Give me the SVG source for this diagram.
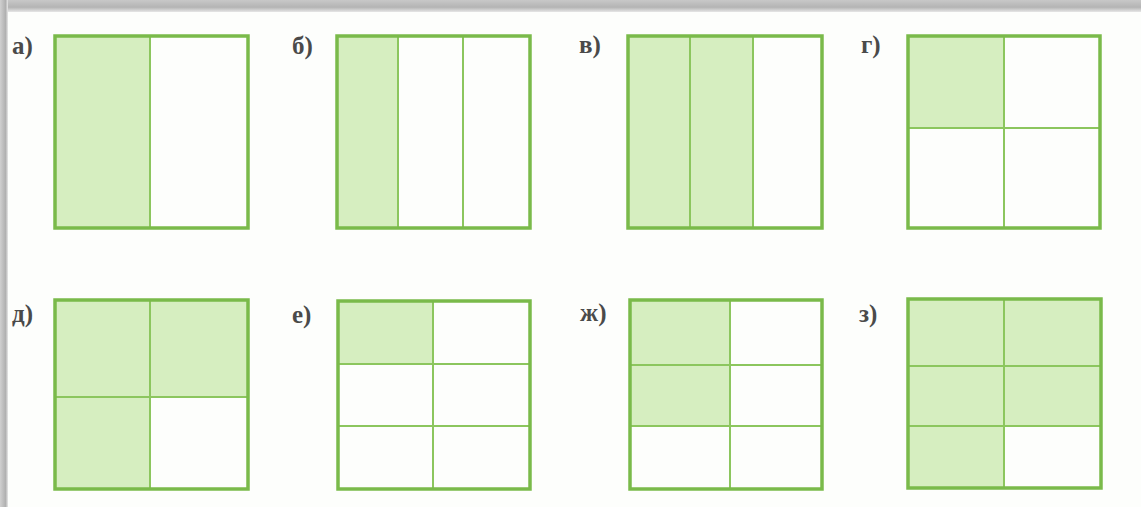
<svg xmlns="http://www.w3.org/2000/svg" width="1141" height="507" viewBox="0 0 1141 507">
<defs>
<linearGradient id="topShade" x1="0" y1="0" x2="0" y2="1">
<stop offset="0" stop-color="#c8c8c8"/>
<stop offset="0.6" stop-color="#b4b4b4"/>
<stop offset="1" stop-color="#e6e6e6"/>
</linearGradient>
<linearGradient id="leftShade" x1="0" y1="0" x2="1" y2="0">
<stop offset="0" stop-color="#d0d0d0"/>
<stop offset="0.7" stop-color="#b0b0b0"/>
<stop offset="1" stop-color="#e8e8e8"/>
</linearGradient>
</defs>
<style>
.lbl{font-family:"Liberation Serif","DejaVu Serif",serif;font-weight:bold;font-size:25px;fill:#4a4a4a}
.fill{fill:#d6eec0;stroke:none}
.div{stroke:#8cc65e;stroke-width:2;fill:none}
.frame{fill:none;stroke:#7aba4a;stroke-width:3.5}
</style>
<rect x="0" y="0" width="1141" height="507" fill="#fdfefc"/>
<rect x="0" y="0" width="1141" height="12" fill="url(#topShade)"/>
<rect x="0" y="0" width="8" height="507" fill="url(#leftShade)"/>

<g id="node-a">
<text class="lbl" x="12" y="54">а)</text>
<rect class="fill" x="55" y="36" width="95" height="192"/>
<line class="div" x1="150" y1="36" x2="150" y2="228"/>
<rect class="frame" x="55" y="36" width="193" height="192"/>
</g>

<g id="node-b">
<text class="lbl" x="292" y="54">б)</text>
<rect class="fill" x="337" y="36" width="61" height="192"/>
<line class="div" x1="398" y1="36" x2="398" y2="228"/>
<line class="div" x1="463" y1="36" x2="463" y2="228"/>
<rect class="frame" x="337" y="36" width="193" height="192"/>
</g>

<g id="node-v">
<text class="lbl" x="579" y="53">в)</text>
<rect class="fill" x="628" y="36" width="125" height="192"/>
<line class="div" x1="690" y1="36" x2="690" y2="228"/>
<line class="div" x1="753" y1="36" x2="753" y2="228"/>
<rect class="frame" x="628" y="36" width="194" height="192"/>
</g>

<g id="node-g">
<text class="lbl" x="861" y="53">г)</text>
<rect class="fill" x="908" y="36" width="96" height="92"/>
<line class="div" x1="1004" y1="36" x2="1004" y2="228"/>
<line class="div" x1="908" y1="128" x2="1100" y2="128"/>
<rect class="frame" x="908" y="36" width="192" height="192"/>
</g>

<g id="node-d">
<text class="lbl" x="12" y="322">д)</text>
<rect class="fill" x="55" y="300" width="193" height="97"/>
<rect class="fill" x="55" y="397" width="95" height="92"/>
<line class="div" x1="150" y1="300" x2="150" y2="489"/>
<line class="div" x1="55" y1="397" x2="248" y2="397"/>
<rect class="frame" x="55" y="300" width="193" height="189"/>
</g>

<g id="node-e">
<text class="lbl" x="292" y="323">е)</text>
<rect class="fill" x="338" y="301" width="95" height="63"/>
<line class="div" x1="433" y1="301" x2="433" y2="489"/>
<line class="div" x1="338" y1="364" x2="530" y2="364"/>
<line class="div" x1="338" y1="426" x2="530" y2="426"/>
<rect class="frame" x="338" y="301" width="192" height="188"/>
</g>

<g id="node-zh">
<text class="lbl" x="580" y="321">ж)</text>
<rect class="fill" x="630" y="300" width="100" height="126"/>
<line class="div" x1="730" y1="300" x2="730" y2="489"/>
<line class="div" x1="630" y1="365" x2="822" y2="365"/>
<line class="div" x1="630" y1="426" x2="822" y2="426"/>
<rect class="frame" x="630" y="300" width="192" height="189"/>
</g>

<g id="node-z">
<text class="lbl" x="859" y="322">з)</text>
<rect class="fill" x="908" y="299" width="193" height="127"/>
<rect class="fill" x="908" y="426" width="96" height="62"/>
<line class="div" x1="1004" y1="299" x2="1004" y2="488"/>
<line class="div" x1="908" y1="366" x2="1101" y2="366"/>
<line class="div" x1="908" y1="426" x2="1101" y2="426"/>
<rect class="frame" x="908" y="299" width="193" height="189"/>
</g>

<g id="connectors"></g>
</svg>
